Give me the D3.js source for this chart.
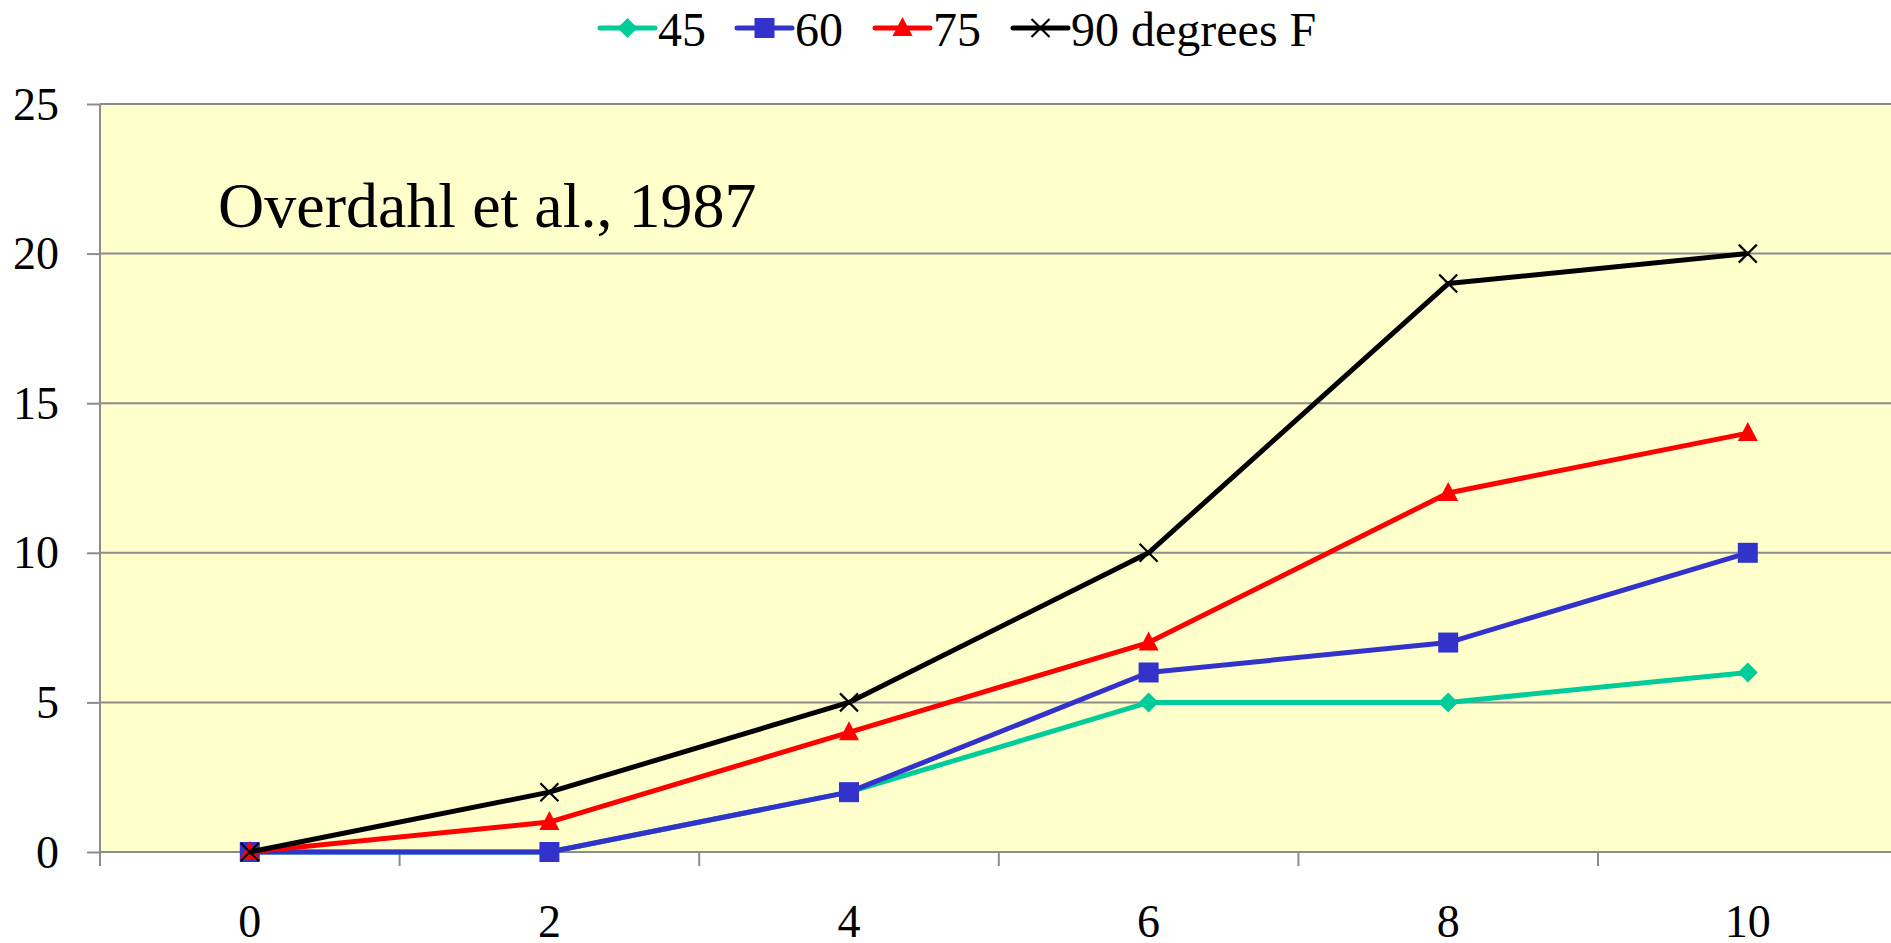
<!DOCTYPE html>
<html>
<head>
<meta charset="utf-8">
<script src="https://cdn.jsdelivr.net/npm/d3@7"></script>
<style>
  body { margin: 0; background: #fff; }
  svg text { font-family: "Liberation Serif", "Times New Roman", Times, serif !important; fill: #000; }
</style>
</head>
<body>
<div id="chart"></div>
<script>
var svgWidth = 1891;
var svgHeight = 943;
var serif = "'Liberation Serif', 'Times New Roman', Times, serif";

// chart data
var categories = [0, 2, 4, 6, 8, 10];
var yTicks = [0, 5, 10, 15, 20, 25];
var seriesNames = ["45", "60", "75", "90 degrees F"];
var values45 = [0, 0, 2, 5, 5, 6];
var values60 = [0, 0, 2, 6, 7, 10];
var values75 = [0, 1, 4, 7, 12, 14];
var values90 = [0, 2, 5, 10, 19, 20];

var seriesList = [
  { name: seriesNames[0], values: values45, color: "#00CC99", marker: "diamond" },
  { name: seriesNames[1], values: values60, color: "#3333CC", marker: "square" },
  { name: seriesNames[2], values: values75, color: "#FF0000", marker: "triangle" },
  { name: seriesNames[3], values: values90, color: "#000000", marker: "cross" }
];

var plot = { left: 100, top: 104, bottom: 852, band: 299.6 };

var svg = d3.select("#chart")
  .append("svg")
  .attr("width", svgWidth)
  .attr("height", svgHeight)
  .attr("font-family", serif);

var xScale = d3.scaleBand()
  .domain(categories)
  .range([plot.left, plot.left + plot.band * categories.length])
  .padding(0);

var yScale = d3.scaleLinear()
  .domain([0, 25])
  .range([plot.bottom, plot.top]);

var xCenter = d => xScale(d) + xScale.bandwidth() / 2;

// plot background
svg.append("rect")
  .attr("x", plot.left)
  .attr("y", plot.top)
  .attr("width", xScale.range()[1] - plot.left)
  .attr("height", plot.bottom - plot.top)
  .attr("fill", "#FFFFCC");

// gridlines
svg.append("g")
  .selectAll("line")
  .data(yTicks)
  .enter()
  .append("line")
  .attr("x1", plot.left)
  .attr("x2", svgWidth)
  .attr("y1", d => yScale(d))
  .attr("y2", d => yScale(d))
  .attr("stroke", "#8c8c8c")
  .attr("stroke-width", 2);

// y axis
var yAxis = svg.append("g")
  .attr("transform", `translate(${plot.left},0)`)
  .call(d3.axisLeft(yScale).tickValues(yTicks).tickSize(13).tickPadding(28));
yAxis.attr("font-family", serif).attr("font-size", null);
yAxis.select(".domain").remove();
yAxis.selectAll("line").attr("stroke", "#8c8c8c").attr("stroke-width", 2);
yAxis.selectAll("text")
  .style("font-family", serif)
  .style("font-size", "46px")
  .attr("dy", "0.33em");

// x axis: labels at band centres, ticks at band edges
var xAxis = svg.append("g")
  .attr("transform", `translate(0,${plot.bottom})`)
  .call(d3.axisBottom(xScale).tickSize(0).tickPadding(52));
xAxis.attr("font-family", serif).attr("font-size", null);
xAxis.select(".domain").remove();
xAxis.selectAll("text")
  .style("font-family", serif)
  .style("font-size", "46px");

svg.append("g")
  .selectAll("line")
  .data(categories)
  .enter()
  .append("line")
  .attr("x1", d => xScale(d))
  .attr("x2", d => xScale(d))
  .attr("y1", plot.bottom)
  .attr("y2", plot.bottom + 14)
  .attr("stroke", "#8c8c8c")
  .attr("stroke-width", 2);

// left axis line
svg.append("line")
  .attr("x1", plot.left).attr("x2", plot.left)
  .attr("y1", plot.top).attr("y2", plot.bottom + 14)
  .attr("stroke", "#8c8c8c")
  .attr("stroke-width", 2);

// marker drawing
function drawMarker(g, type, color) {
  if (type === "diamond") {
    g.append("path").attr("d", "M0,-10L10,0L0,10L-10,0Z").attr("fill", color);
  } else if (type === "square") {
    g.append("rect").attr("x", -10).attr("y", -10).attr("width", 20).attr("height", 20).attr("fill", color);
  } else if (type === "triangle") {
    g.append("path").attr("d", "M0,-11L10,8L-10,8Z").attr("fill", color);
  } else {
    g.append("path").attr("d", "M-9,-9L9,9M-9,9L9,-9").attr("stroke", color).attr("stroke-width", 2.2).attr("fill", "none");
  }
}

var line = d3.line()
  .x((d, i) => xCenter(categories[i]))
  .y(d => yScale(d));

seriesList.forEach(function(s) {
  svg.append("path")
    .datum(s.values)
    .attr("d", line)
    .attr("fill", "none")
    .attr("stroke", s.color)
    .attr("stroke-width", 5)
    .attr("stroke-linejoin", "round");

  s.values.forEach(function(v, i) {
    var g = svg.append("g")
      .attr("transform", `translate(${xCenter(categories[i])},${yScale(v)})`);
    drawMarker(g, s.marker, s.color);
  });
});

// annotation
svg.append("text")
  .attr("x", 218)
  .attr("y", 227)
  .style("font-family", serif)
  .style("font-size", "64px")
  .text("Overdahl et al., 1987");

// legend
var legendX = [600, 737, 875, 1013];
var legend = svg.append("g");
seriesList.forEach(function(s, i) {
  var g = legend.append("g").attr("transform", `translate(${legendX[i]},28)`);
  g.append("line")
    .attr("x1", 0).attr("x2", 55)
    .attr("y1", 0).attr("y2", 0)
    .attr("stroke", s.color)
    .attr("stroke-width", 5)
    .attr("stroke-linecap", "round");
  var m = g.append("g").attr("transform", "translate(27.5,0)");
  drawMarker(m, s.marker, s.color);
  g.append("text")
    .attr("x", 58)
    .attr("y", 18)
    .style("font-family", serif)
    .style("font-size", "48px")
    .text(s.name);
});
</script>
</body>
</html>
